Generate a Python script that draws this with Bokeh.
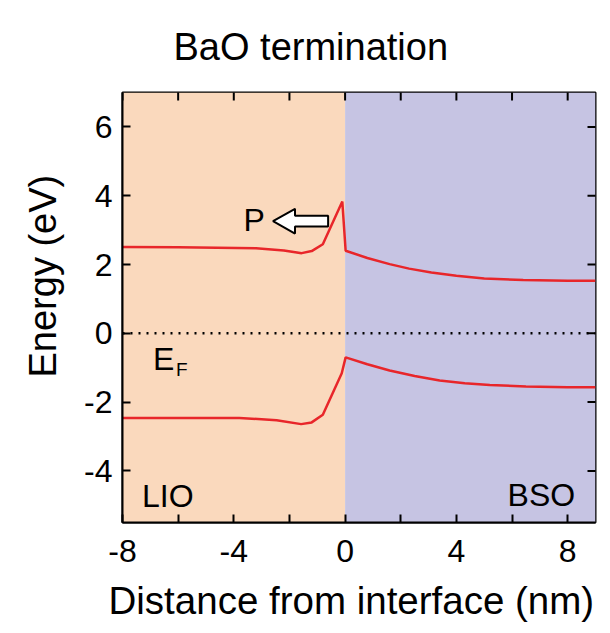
import math
from bokeh.plotting import figure
from bokeh.models import (BoxAnnotation, Label, FixedTicker, Span, Range1d, Title)
from bokeh.embed import file_html
from bokeh.resources import INLINE

# ---- data ----
cb_x = [-8, -6, -4.6, -3.2, -2.2, -1.56, -1.2, -0.8, -0.1, 0.02, 0.8, 1.6, 2.3, 3.1, 4.0, 5.0, 6.4, 8.0, 9.0]
cb_y = [2.51, 2.50, 2.49, 2.47, 2.41, 2.33, 2.39, 2.59, 3.83, 2.40, 2.19, 2.01, 1.88, 1.77, 1.67, 1.59, 1.55, 1.53, 1.53]
vb_x = [-8, -6, -3.8, -2.46, -1.58, -1.2, -0.8, -0.12, 0.02, 0.8, 1.6, 2.5, 3.4, 4.3, 5.2, 6.5, 8.0, 9.0]
vb_y = [-2.46, -2.46, -2.46, -2.53, -2.64, -2.59, -2.37, -1.16, -0.70, -0.90, -1.08, -1.24, -1.37, -1.45, -1.50, -1.55, -1.57, -1.57]

regions = ["LIO", "BSO"]
region_left = [-8, 0]
region_right = [0, 9]
region_colors = ["#FAD9BD", "#C6C4E3"]

x_major = [-8, -4, 0, 4, 8]
x_minor = [-6, -2, 2, 6]
y_major = [-4, -2, 0, 2, 4, 6]
x_range = (-8, 9)
y_range = (-5.5, 7)

FONT = "Liberation Sans"
RED = "#E8262A"

p = figure(width=610, height=633, output_backend="svg", toolbar_location=None,
           x_range=Range1d(*x_range), y_range=Range1d(*y_range),
           min_border_left=122, min_border_right=15, min_border_top=92, min_border_bottom=108)
p.background_fill_color = None
p.border_fill_color = "white"
p.outline_line_color = "black"
p.outline_line_width = 2
p.grid.visible = False

for name, l, r, c in zip(regions, region_left, region_right, region_colors):
    p.add_layout(BoxAnnotation(left=l, right=r, fill_color=c, fill_alpha=1.0, line_color=None, level="underlay"))

# Fermi level
p.add_layout(Span(location=0, dimension="width", line_color="black", line_width=2.5, line_dash="2 6"))

p.line(cb_x, cb_y, line_color=RED, line_width=2.5)
p.line(vb_x, vb_y, line_color=RED, line_width=2.5)

# polarization arrow (hollow block arrow)
tip_x, tail_x, head_base_x, cy = -2.59, -0.61, -1.8, 3.26
hh, sh = 0.36, 0.155
ax_ = [tip_x, head_base_x, head_base_x, tail_x, tail_x, head_base_x, head_base_x]
ay_ = [cy, cy + hh, cy + sh, cy + sh, cy - sh, cy - sh, cy - hh]
p.patch(ax_, ay_, fill_color="white", line_color="black", line_width=2)

# mirror ticks on top and right edges (half of each dash marker is clipped by the frame)
all_x = x_major + x_minor
p.scatter(all_x, [y_range[1]] * len(all_x), marker="dash", size=16, angle=math.pi / 2,
          line_color="black", line_width=2)
p.scatter([x_range[1]] * len(y_major), y_major, marker="dash", size=16,
          line_color="black", line_width=2)

def axis_style(ax):
    ax.axis_line_color = "black"
    ax.axis_line_width = 2
    ax.major_tick_in = 8
    ax.major_tick_out = 0
    ax.minor_tick_in = 8
    ax.minor_tick_out = 0
    ax.major_tick_line_width = 2
    ax.minor_tick_line_width = 2
    ax.major_tick_line_color = "black"
    ax.minor_tick_line_color = "black"
    ax.major_label_text_font = FONT
    ax.major_label_text_color = "black"
    ax.major_label_text_font_size = "32px"

p.xaxis.ticker = FixedTicker(ticks=x_major, minor_ticks=x_minor)
p.yaxis.ticker = FixedTicker(ticks=y_major, minor_ticks=[])
axis_style(p.xaxis[0])
axis_style(p.yaxis[0])
p.xaxis.major_label_overrides = {v: str(v) for v in x_major}
p.yaxis.major_label_overrides = {v: str(v) for v in y_major}
p.xaxis.major_label_standoff = 17
p.yaxis.major_label_standoff = 10

p.add_layout(Title(text="Distance from interface (nm)", align="left", offset=-14, standoff=24,
                   text_font=FONT, text_font_size="38.5px", text_font_style="normal",
                   text_color="black"), "below")
p.add_layout(Title(text="Energy (eV)", align="left", offset=145, standoff=36,
                   text_font=FONT, text_font_size="38px", text_font_style="normal",
                   text_color="black"), "left")
p.add_layout(Title(text="BaO termination", align="left", offset=51, standoff=46,
                   vertical_align="top",
                   text_font=FONT, text_font_size="38px", text_font_style="normal",
                   text_color="black"), "above")

def lab(text, x, y, size, align="left", baseline="alphabetic", **kw):
    p.add_layout(Label(x=x, y=y, text=text, text_font=FONT, text_font_size=size,
                       text_align=align, text_baseline=baseline, text_color="black", **kw))

lab("P", -3.27, 3.3, "32px", align="center")
lab("E", -6.9, -0.74, "32px")
lab("F", -6.08, -1.06, "19px")
lab("LIO", -7.3, -4.74, "32px")
lab("BSO", 8.27, -4.69, "32px", align="right")

open("out.html", "w").write(file_html(p, INLINE))
